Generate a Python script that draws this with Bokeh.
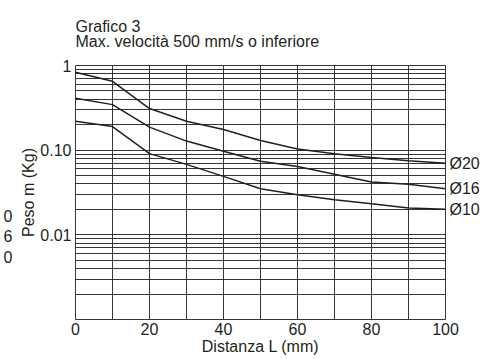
from bokeh.plotting import figure
from bokeh.models import FixedTicker, Title, LogAxis
from bokeh.embed import file_html
from bokeh.resources import INLINE

# ---- data ----
distance_mm = [0, 10, 20, 30, 40, 50, 60, 70, 80, 90, 100]
weight_d20 = [0.83, 0.65, 0.31, 0.22, 0.175, 0.13, 0.103, 0.091, 0.082, 0.075, 0.070]
weight_d16 = [0.41, 0.345, 0.187, 0.128, 0.097, 0.074, 0.064, 0.052, 0.042, 0.0395, 0.035]
weight_d10 = [0.22, 0.19, 0.091, 0.068, 0.049, 0.035, 0.0297, 0.026, 0.0233, 0.0207, 0.0201]
series_names = ["Ø20", "Ø16", "Ø10"]

x_major_ticks = [0, 20, 40, 60, 80, 100]
x_minor_ticks = [10, 30, 50, 70, 90]
y_major_ticks = [0.01, 0.1, 1]
y_major_labels = ["0.01", "0.10", "1"]
y_minor_ticks = [m * d for d in (0.001, 0.01, 0.1) for m in range(2, 10)]

# cut-off leftovers visible at the far left edge of the reference
edge_fragments = ["0", "6", "0"]
edge_fragment_y = [0.0165, 0.0096, 0.0055]

title_1 = "Grafico 3"
title_2 = "Max. velocità 500 mm/s o inferiore"
x_label = "Distanza L (mm)"
y_label = "Peso m (Kg)"

INK = "#231f20"
FONT = "Liberation Sans"
FS = "16px"

p = figure(width=497, height=359, x_range=(0, 100), y_range=(0.001, 1),
           y_axis_type="log", output_backend="svg", toolbar_location=None,
           min_border_left=74, min_border_right=52, min_border_top=64,
           min_border_bottom=40, title=None)
p.outline_line_color = INK
p.outline_line_alpha = 0.9
p.background_fill_color = "white"
p.border_fill_color = "white"


def style_axis(ax, standoff):
    ax.axis_line_color = None
    ax.major_tick_line_color = None
    ax.minor_tick_line_color = None
    ax.major_tick_out = 0
    ax.major_tick_in = 0
    ax.minor_tick_out = 0
    ax.minor_tick_in = 0
    ax.major_label_text_font = FONT
    ax.major_label_text_font_size = FS
    ax.major_label_text_color = INK
    ax.axis_label_text_font = FONT
    ax.axis_label_text_font_size = FS
    ax.axis_label_text_color = INK
    ax.axis_label_text_font_style = "normal"
    ax.major_label_standoff = standoff


# main axes
p.xaxis.ticker = FixedTicker(ticks=x_major_ticks, minor_ticks=x_minor_ticks)
p.yaxis.ticker = FixedTicker(ticks=y_major_ticks, minor_ticks=y_minor_ticks)
p.yaxis.major_label_overrides = dict(zip(y_major_ticks, y_major_labels))
style_axis(p.xaxis[0], 3)
style_axis(p.yaxis[0], 4)
p.xaxis.axis_label = x_label
p.yaxis.axis_label = y_label
p.xaxis.axis_label_standoff = 0
p.yaxis.axis_label_standoff = 0

# grids
p.xgrid.ticker = p.xaxis[0].ticker
p.ygrid.ticker = p.yaxis[0].ticker
for g in (p.xgrid, p.ygrid):
    g.grid_line_color = INK
    g.grid_line_alpha = 0.9
    g.grid_line_width = 1
    g.minor_grid_line_color = INK
    g.minor_grid_line_alpha = 0.9
    g.minor_grid_line_width = 1

# curves
ends = []
for ys in (weight_d20, weight_d16, weight_d10):
    p.line(distance_mm, ys, line_color=INK, line_width=1.5)
    ends.append(ys[-1])

# series names on the right, at each curve's end
right_axis = LogAxis(ticker=FixedTicker(ticks=ends, minor_ticks=[]),
                     major_label_overrides=dict(zip(ends, series_names)))
style_axis(right_axis, 4)
p.add_layout(right_axis, "right")

# leftover fragments at the far left
edge_axis = LogAxis(ticker=FixedTicker(ticks=edge_fragment_y, minor_ticks=[]),
                    major_label_overrides=dict(zip(edge_fragment_y, edge_fragments)))
style_axis(edge_axis, 5)
p.add_layout(edge_axis, "left")

# two-line title
p.add_layout(Title(text=title_1 + "\n" + title_2, align="left", text_font=FONT,
                   text_font_size=FS, text_color=INK, text_font_style="normal",
                   text_line_height=0.9, standoff=31), "above")

open("out.html", "w").write(file_html(p, INLINE))
